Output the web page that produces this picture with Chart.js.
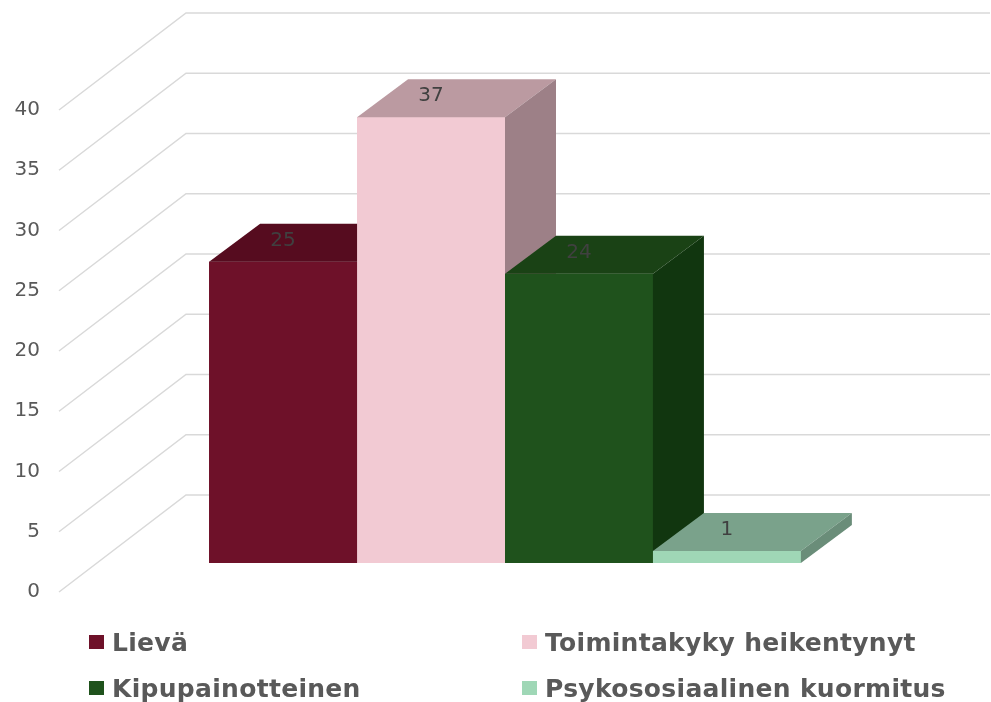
<!DOCTYPE html>
<html>
<head>
<meta charset="utf-8">
<script src="https://cdn.jsdelivr.net/npm/chart.js@4.4.1/dist/chart.umd.min.js"></script>
<style>
  body { margin: 0; background: #ffffff; }
  #wrap { position: relative; width: 991px; height: 702px; }
  #legend { position: absolute; left: 0; top: 0; width: 991px; height: 702px; pointer-events: none; }
  .item {
    position: absolute;
    display: flex;
    align-items: center;
    height: 30px;
    font: bold 25px "DejaVu Sans", Verdana, sans-serif;
    letter-spacing: 0.3px;
    color: #595959;
    white-space: nowrap;
  }
  .swatch { width: 15px; height: 14px; margin-right: 8px; }
</style>
</head>
<body>
<div id="wrap">
  <canvas id="chart" width="991" height="702"></canvas>
  <div id="legend"></div>
</div>
<script>
const categories = [''];
const seriesNames = ['Lievä', 'Toimintakyky heikentynyt', 'Kipupainotteinen', 'Psykososiaalinen kuormitus'];
const seriesValues = [25, 37, 24, 1];
const yTicks = [0, 5, 10, 15, 20, 25, 30, 35, 40];

const frontColors = ['#6e1129', '#f2cad3', '#1f521c', '#9fd7b6'];
const topColors = ['#560c1f', '#bb9aa1', '#1a4215', '#7aa28b'];
const sideColors = ['#420918', '#9d8087', '#11360f', '#6a8d79'];

// depth of the bars and of the wall, in pixels on screen
const barDepth = { dx: 51, dy: -38 };
const wall = { frontX: -44, frontY: 29, backX: 83, backY: -68 };

const box3d = {
  id: 'box3d',
  beforeDatasetsDraw(chart) {
    const { ctx, chartArea } = chart;
    const yScale = chart.scales.y;
    ctx.save();
    ctx.strokeStyle = '#d9d9d9';
    ctx.lineWidth = 1.5;
    yTicks.forEach((v) => {
      const py = yScale.getPixelForValue(v);
      ctx.beginPath();
      ctx.moveTo(chartArea.left + wall.frontX, py + wall.frontY);
      ctx.lineTo(chartArea.left + wall.backX, py + wall.backY);
      ctx.lineTo(chartArea.right + wall.backX, py + wall.backY);
      ctx.stroke();
    });
    ctx.restore();
  },
  afterDatasetsDraw(chart) {
    const { ctx } = chart;
    const { dx, dy } = barDepth;
    chart.data.datasets.forEach((ds, i) => {
      const bar = chart.getDatasetMeta(i).data[0];
      const { x, y, base, width } = bar.getProps(['x', 'y', 'base', 'width'], true);
      const left = x - width / 2;
      const right = x + width / 2;
      ctx.save();
      ctx.fillStyle = frontColors[i];
      ctx.fillRect(left, y, width, base - y);

      ctx.fillStyle = topColors[i];
      ctx.beginPath();
      ctx.moveTo(left, y);
      ctx.lineTo(right, y);
      ctx.lineTo(right + dx, y + dy);
      ctx.lineTo(left + dx, y + dy);
      ctx.closePath();
      ctx.fill();

      ctx.fillStyle = sideColors[i];
      ctx.beginPath();
      ctx.moveTo(right, y);
      ctx.lineTo(right + dx, y + dy);
      ctx.lineTo(right + dx, base + dy);
      ctx.lineTo(right, base);
      ctx.closePath();
      ctx.fill();

      ctx.fillStyle = '#404040';
      ctx.font = '20px "DejaVu Sans", Verdana, sans-serif';
      ctx.textAlign = 'center';
      ctx.textBaseline = 'middle';
      ctx.fillText(String(ds.data[0]), x, y - 21);
      ctx.restore();
    });
  }
};

const chart = new Chart(document.getElementById('chart'), {
  type: 'bar',
  plugins: [box3d],
  data: {
    labels: categories,
    datasets: seriesNames.map((name, i) => ({
      label: name,
      data: [seriesValues[i]],
      backgroundColor: frontColors[i],
      borderWidth: 0,
      categoryPercentage: 0.736,
      barPercentage: 1
    }))
  },
  options: {
    responsive: false,
    animation: false,
    layout: { padding: { left: 0, top: 81, right: 84, bottom: 139 } },
    plugins: {
      legend: { display: false },
      tooltip: { enabled: false }
    },
    scales: {
      x: { display: false },
      y: {
        min: 0,
        max: 40,
        afterBuildTicks(scale) {
          scale.ticks = yTicks.map((value) => ({ value }));
        },
        afterFit(scale) {
          scale.width = 103;
        },
        grid: { display: false, drawTicks: false },
        border: { display: false },
        ticks: {
          padding: 63,
          labelOffset: 29,
          color: '#595959',
          font: { family: '"DejaVu Sans", Verdana, sans-serif', size: 20 }
        }
      }
    }
  }
});

// legend laid out in two columns like the original
const legendCols = [89, 522];
const legendRows = [642, 688];
const legendEl = document.getElementById('legend');
chart.data.datasets.forEach((ds, i) => {
  const item = document.createElement('div');
  item.className = 'item';
  item.style.left = legendCols[i % 2] + 'px';
  item.style.top = (legendRows[Math.floor(i / 2)] - 15) + 'px';
  const sw = document.createElement('span');
  sw.className = 'swatch';
  sw.style.background = ds.backgroundColor;
  const txt = document.createElement('span');
  txt.textContent = ds.label;
  item.appendChild(sw);
  item.appendChild(txt);
  legendEl.appendChild(item);
});
</script>
</body>
</html>
